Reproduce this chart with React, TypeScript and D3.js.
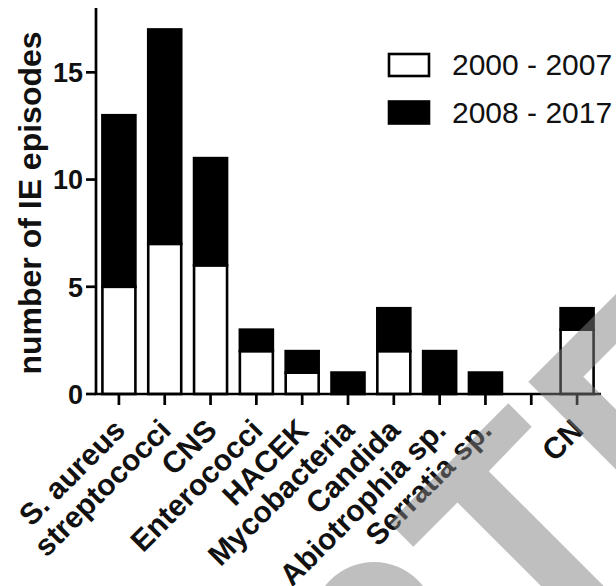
import React from "react";
import * as d3 from "d3";

const categories = ["S. aureus", "streptococci", "CNS", "Enterococci", "HACEK", "Mycobacteria", "Candida", "Abiotrophia sp.", "Serratia sp.", "", "CN"];
const period1 = [5, 7, 6, 2, 1, 0, 2, 0, 0, 0, 3]; // 2000 - 2007
const period2 = [8, 10, 5, 1, 1, 1, 2, 2, 1, 0, 1]; // 2008 - 2017
const seriesNames = ["2000 - 2007", "2008 - 2017"];
const seriesFill = ["#ffffff", "#000000"];
const yTicks = [0, 5, 10, 15];

const W = 616;
const H = 586;
const FONT = "'Liberation Sans', Arial, Helvetica, sans-serif";

// decorative watermark overlay seen in the reference
const watermarkPolys = [
  [[508.3, 403.3], [531.7, 426.7], [488.8, 471.2], [603.7, 586], [541, 586], [457.5, 502.5], [413.3, 546.7], [389.2, 522.5]],
  [[528.3, 381.7], [640, 270], [640, 320], [583.3, 376.7], [640, 433.4], [640, 493.4]],
];

export default function App() {
  const x0 = 96, x1 = 600, yTop = 8, yZero = 394;
  const x = d3.scalePoint<string>().domain(categories.map((c, i) => String(i))).range([x0, x1]).padding(0.5);
  const step = x.step();
  const bw = step * 0.72;
  const y = d3.scaleLinear().domain([0, 18]).range([yZero, yTop]);

  const rows = categories.map((c, i) => ({ key: String(i), s0: period1[i], s1: period2[i] }));
  const stacked = d3.stack<any>().keys(["s0", "s1"])(rows);

  return (
    <svg width={W} height={H} style={{ position: "absolute", left: 0, top: 0, display: "block", background: "#fff" }} fontFamily={FONT}>
      <rect x={0} y={0} width={W} height={H} fill="#fff" />
      {/* bars */}
      {stacked.map((layer, li) =>
        layer.map((d, i) => {
          const v = d[1] - d[0];
          if (v <= 0) return null;
          const cx = x(String(i))!;
          return (
            <rect key={li + "-" + i} x={cx - bw / 2} y={y(d[1])} width={bw} height={y(d[0]) - y(d[1])}
              fill={seriesFill[li]} stroke="#000" strokeWidth={2.6} />
          );
        })
      )}
      {/* y axis */}
      <line x1={x0} x2={x0} y1={yTop} y2={yZero} stroke="#000" strokeWidth={2.7} />
      {yTicks.map((t) => (
        <g key={t} transform={`translate(0,${y(t)})`}>
          <line x1={x0 - 10} x2={x0} stroke="#000" strokeWidth={2.7} />
          <text x={x0 - 13} dy="0.36em" textAnchor="end" fontSize={27} fontWeight="bold" fill="#111">{t}</text>
        </g>
      ))}
      {/* x axis */}
      <line x1={x0 - 1.3} x2={x1 + 1} y1={yZero} y2={yZero} stroke="#000" strokeWidth={2.7} />
      {categories.map((c, i) => {
        const cx = x(String(i))!;
        return (
          <g key={i}>
            <line x1={cx} x2={cx} y1={yZero} y2={yZero + 11} stroke="#000" strokeWidth={2.7} />
            <text transform={`translate(${cx + 8},${yZero + 38}) rotate(-45)`} textAnchor="end" fontSize={30} fontWeight="bold" fill="#111">{c}</text>
          </g>
        );
      })}
      {/* y title */}
      <text transform={`translate(41,${(yTop + yZero) / 2 + 2}) rotate(-90)`} textAnchor="middle" fontSize={32} fontWeight="bold" fill="#111">number of IE episodes</text>
      {/* legend */}
      {seriesNames.map((n, i) => (
        <g key={n} transform={`translate(0,${i * 47.5})`}>
          <rect x={389} y={54} width={40} height={22} fill={seriesFill[i]} stroke="#000" strokeWidth={2.6} />
          <text x={452} y={75} fontSize={30} fill="#111">{n}</text>
        </g>
      ))}
      {/* watermark */}
      <g fill="#808080" opacity={0.5}>
        {watermarkPolys.map((p, i) => (
          <polygon key={i} points={p.map((q) => q.join(",")).join(" ")} />
        ))}
        <circle cx={374} cy={624} r={62} />
      </g>
    </svg>
  );
}
